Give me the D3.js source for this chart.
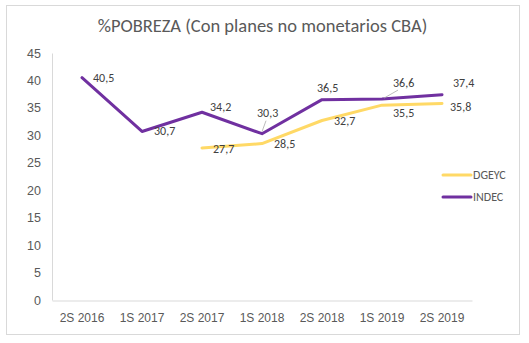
<!DOCTYPE html>
<html>
<head>
<meta charset="utf-8">
<script src="https://cdn.jsdelivr.net/npm/d3@7"></script>
<style>
html,body{margin:0;padding:0;background:#fff;}
svg{display:block;font-family:Carlito,Lato,"Open Sans",sans-serif;}
</style>
</head>
<body>
<svg id="chart" width="529" height="343"></svg>
<script>
const categories = ["2S 2016","1S 2017","2S 2017","1S 2018","2S 2018","1S 2019","2S 2019"];
const dgeyc = [null, null, 27.7, 28.5, 32.7, 35.5, 35.8];
const indec = [40.5, 30.7, 34.2, 30.3, 36.5, 36.6, 37.4];
const yTicks = [0,5,10,15,20,25,30,35,40,45];
const seriesNames = ["DGEYC","INDEC"];

const colors = {DGEYC:"#FFD966", INDEC:"#7030A0"};
const svg = d3.select("#chart");

// chart border
svg.append("rect").attr("x",6.5).attr("y",5.5).attr("width",513).attr("height",329)
  .attr("fill","#fff").attr("stroke","#d9d9d9").attr("stroke-width",1);

// title
svg.append("text").attr("x",262.5).attr("y",32).attr("text-anchor","middle")
  .attr("font-size",18.5).attr("fill","#595959")
  .text("%POBREZA (Con planes no monetarios CBA)");

const x = d3.scaleBand().domain(categories).range([52,472]);
const y = d3.scaleLinear().domain([0,45]).range([300,53]);

// y axis
const ya = svg.append("g").attr("transform","translate(52,0)")
  .call(d3.axisLeft(y).tickValues(yTicks).tickSize(0).tickPadding(11).tickFormat(d3.format("d")));
ya.select(".domain").attr("stroke","#d9d9d9");
ya.selectAll("text").attr("font-size",12.5).attr("fill","#595959").attr("font-family",null);

// x axis
const xa = svg.append("g").attr("transform","translate(0,300.5)")
  .call(d3.axisBottom(x).tickSize(0).tickPadding(13));
xa.select(".domain").attr("stroke","#d9d9d9");
xa.selectAll("text").attr("font-size",12).attr("fill","#595959").attr("font-family",null);

const cx = c => x(c) + x.bandwidth()/2;
const line = d3.line().defined(d => d.v != null).x(d => cx(d.c)).y(d => y(d.v));

const data = {
  DGEYC: categories.map((c,i)=>({c, v: dgeyc[i]})),
  INDEC: categories.map((c,i)=>({c, v: indec[i]}))
};

["DGEYC","INDEC"].forEach(name=>{
  svg.append("path").datum(data[name]).attr("d",line)
    .attr("fill","none").attr("stroke",colors[name]).attr("stroke-width",3)
    .attr("stroke-linejoin","round").attr("stroke-linecap","round");
});

// label offsets (dx to label left, dy to label vertical centre), leader flag
const labelPlace = {
  DGEYC: [null,null,[11,1],[12,0],[12,0],[11,8],[8,4]],
  INDEC: [[11,0],[12,0],[8,-5],[-5,-21,true],[-5,-12],[11,-16,true],[11,-12]]
};
["DGEYC","INDEC"].forEach(name=>{
  data[name].forEach((d,i)=>{
    const p = labelPlace[name][i];
    if (d.v == null || !p) return;
    const px = cx(d.c), py = y(d.v);
    if (p[2]) {
      if (p[0] < 0) {
        svg.append("line").attr("x1",px).attr("y1",py-2).attr("x2",px+4).attr("y2",py+p[1]+8)
          .attr("stroke","#a6a6a6").attr("stroke-width",0.75);
      } else {
        svg.append("line").attr("x1",px+2).attr("y1",py-1).attr("x2",px+p[0]+5).attr("y2",py+p[1]+7)
          .attr("stroke","#a6a6a6").attr("stroke-width",0.75);
      }
    }
    svg.append("text").attr("x",px+p[0]).attr("y",py+p[1]+4)
      .attr("font-size",12).attr("fill","#404040")
      .text(d3.format(".1f")(d.v).replace(".",","));
  });
});

// legend
const lg = svg.append("g");
seriesNames.forEach((name,i)=>{
  const ly = 175 + i*22;
  lg.append("line").attr("x1",443).attr("x2",471).attr("y1",ly).attr("y2",ly)
    .attr("stroke",colors[name]).attr("stroke-width",3).attr("stroke-linecap","round");
  lg.append("text").attr("x",473).attr("y",ly+4).attr("font-size",12).attr("fill","#595959").text(name);
});
</script>
</body>
</html>
